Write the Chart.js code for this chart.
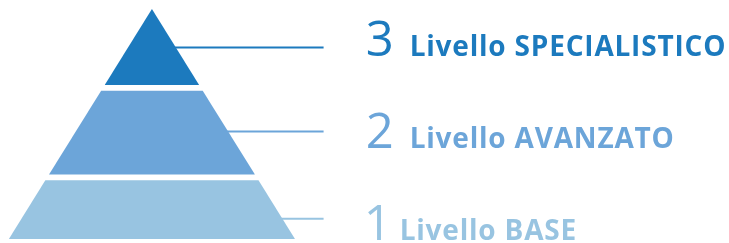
<!DOCTYPE html>
<html>
<head>
<meta charset="utf-8">
<script src="https://cdn.jsdelivr.net/npm/chart.js@4"></script>
<style>
  html, body { margin: 0; padding: 0; background: #fff; }
  #wrap { width: 729px; height: 243px; }
</style>
</head>
<body>
<div id="wrap"><canvas id="pyramid" width="729" height="243"></canvas></div>
<script>
// pyramid levels, bottom to top
const levels = ['1', '2', '3'];
const levelNames = ['Livello BASE', 'Livello AVANZATO', 'Livello SPECIALISTICO'];
// tier extent in % of pyramid height
const tierBottom = [0, 28, 67];
const tierTop = [25.5, 64.5, 100];

const colors = ['#98c4e1', '#6ca5d9', '#1c7abe'];

// layout (data units): half base width 50, height 100
const halfBase = 50;
const leaderY = [8.8, 46.7, 83.3];
const leaderEnd = 60;
const textX = 75.4;
const textBaseline = [-0.4, 39.6, 79.4];

function halfWidthAt(h) {
    return halfBase * (1 - h / 100);
}

const datasets = [];

// tiers as filled polygons
levels.forEach((lvl, i) => {
    const b = tierBottom[i], t = tierTop[i];
    datasets.push({
        data: [
            { x: -halfWidthAt(b), y: b },
            { x: -halfWidthAt(t), y: t },
            { x: halfWidthAt(t), y: t },
            { x: halfWidthAt(b), y: b }
        ],
        backgroundColor: colors[i],
        borderWidth: 0,
        pointRadius: 0,
        fill: { value: b }
    });
});

// leader lines
levels.forEach((lvl, i) => {
    const h = leaderY[i];
    datasets.push({
        data: [
            { x: halfWidthAt(h) - 2, y: h },
            { x: leaderEnd, y: h }
        ],
        borderColor: colors[i],
        borderWidth: 2,
        pointRadius: 0,
        fill: false
    });
});

const labelPlugin = {
    id: 'levelLabels',
    afterDatasetsDraw(chart) {
        const ctx = chart.ctx;
        const xs = chart.scales.x, ys = chart.scales.y;
        ctx.save();
        ctx.textBaseline = 'alphabetic';
        ctx.textAlign = 'left';
        levels.forEach((lvl, i) => {
            const y = ys.getPixelForValue(textBaseline[i]);
            const inkLeft = xs.getPixelForValue(textX);
            ctx.fillStyle = colors[i];

            ctx.letterSpacing = '0px';
            ctx.font = '400 49px "Open Sans"';
            const m = ctx.measureText(lvl);
            const dx = inkLeft + m.actualBoundingBoxLeft;
            ctx.fillText(lvl, dx, y);
            const digitRight = dx + m.actualBoundingBoxRight;

            ctx.letterSpacing = '0.8px';
            ctx.font = '700 28px "Open Sans"';
            const lm = ctx.measureText(levelNames[i]);
            ctx.fillText(levelNames[i], digitRight + 20 + lm.actualBoundingBoxLeft, y);
        });
        ctx.restore();
    }
};

new Chart(document.getElementById('pyramid'), {
    type: 'line',
    data: { datasets: datasets },
    options: {
        responsive: false,
        animation: false,
        layout: { padding: 0 },
        plugins: {
            legend: { display: false },
            tooltip: { enabled: false }
        },
        scales: {
            x: { type: 'linear', display: false, min: -53.1, max: 201.7 },
            y: { type: 'linear', display: false, min: -1.74, max: 103.9 }
        }
    },
    plugins: [labelPlugin]
});
</script>
</body>
</html>
